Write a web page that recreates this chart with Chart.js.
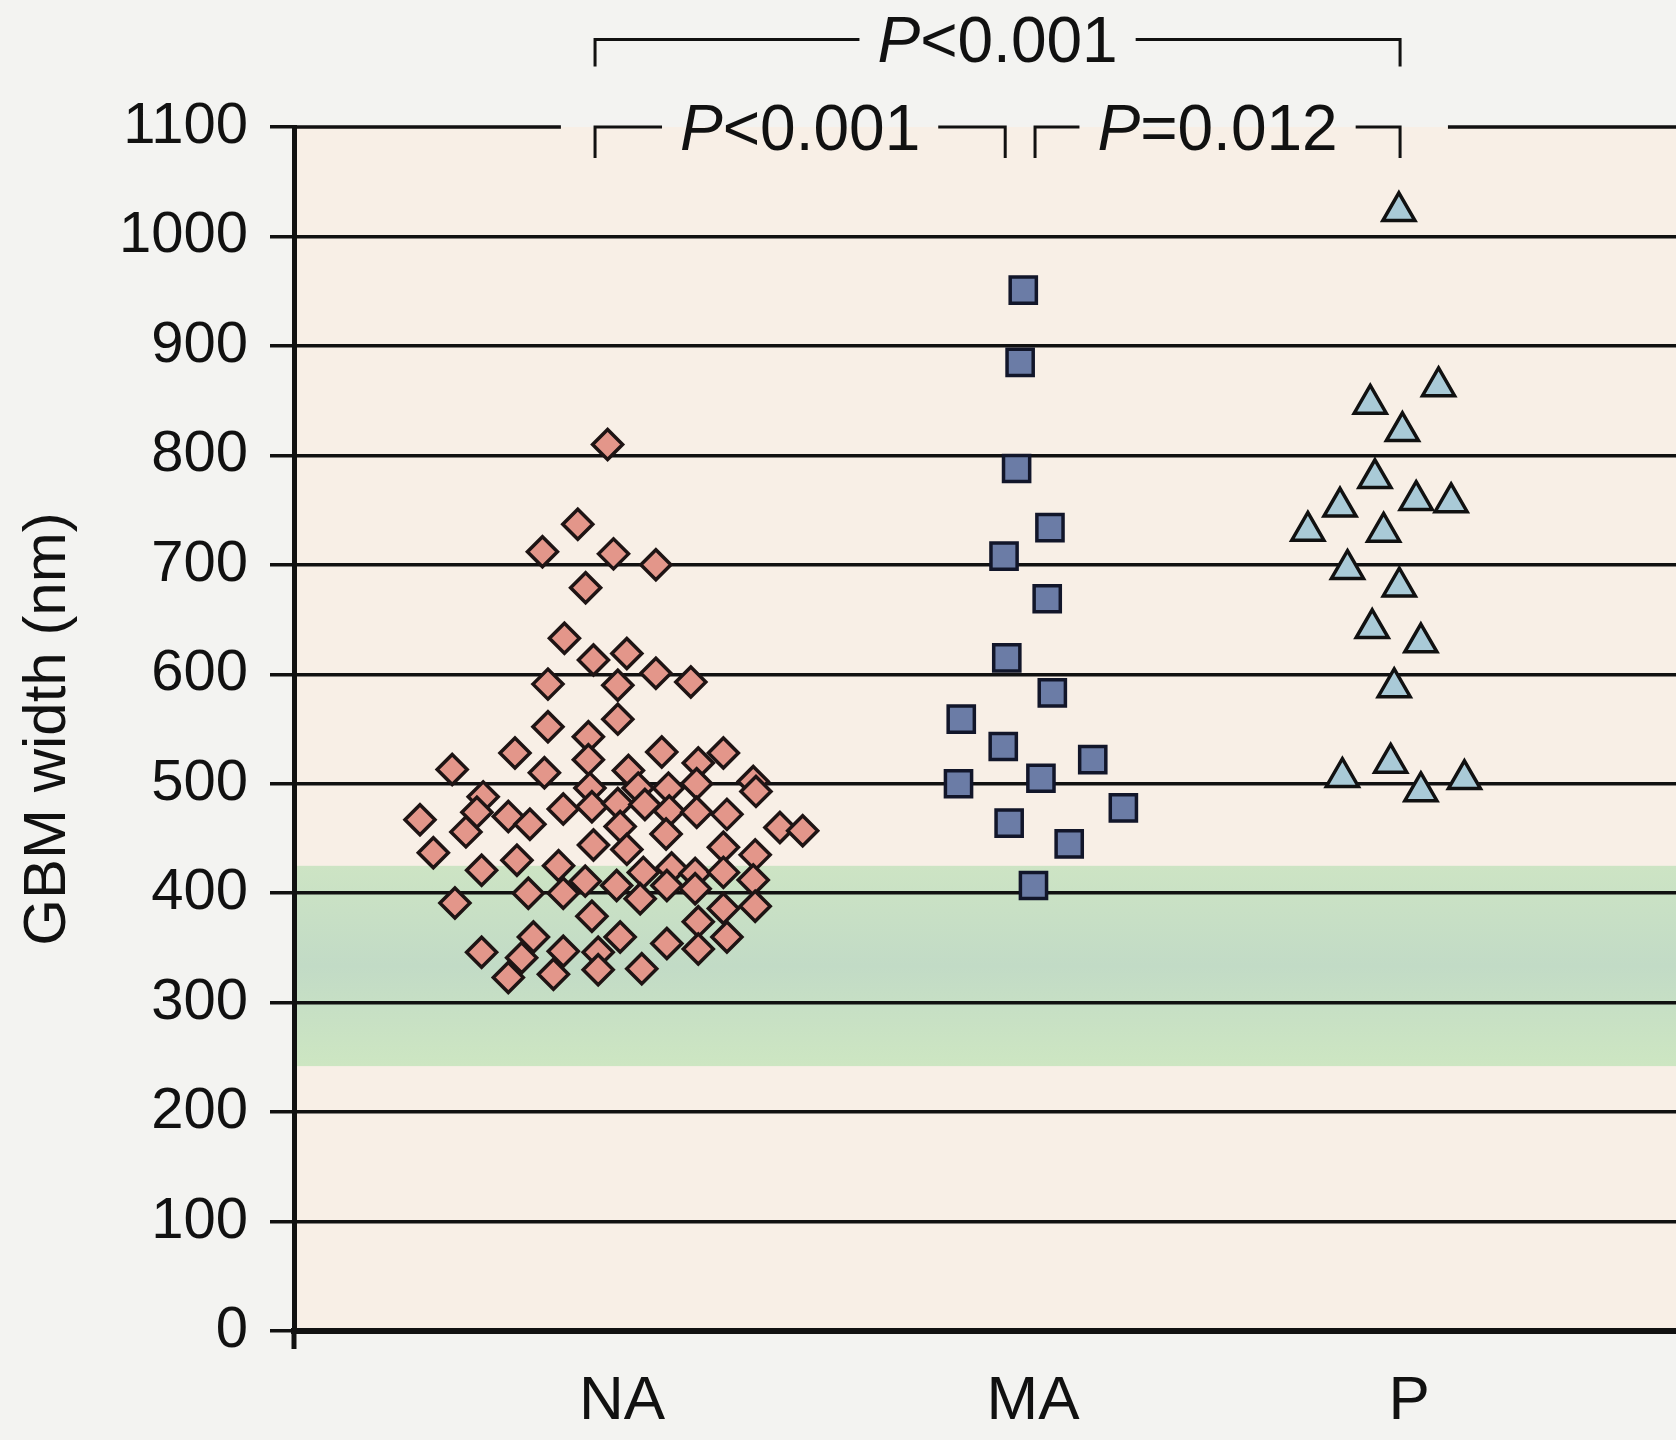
<!DOCTYPE html>
<html>
<head>
<meta charset="utf-8">
<title>GBM width by group</title>
<script src="https://cdn.jsdelivr.net/npm/chart.js@4.4.1/dist/chart.umd.min.js"></script>
<style>
  html, body { margin: 0; padding: 0; background: #f3f3f1; }
  #wrap { width: 1676px; height: 1440px; }
</style>
</head>
<body>
<div id="wrap"><canvas id="gbm" width="1676" height="1440"></canvas></div>
<script>
// groups on the x axis
const groups = ['NA', 'MA', 'P'];

// NA (diamonds): x = jitter position around group 1, y = GBM width (nm)
const naX = [0.981, 0.905, 0.815, 0.996, 1.104, 0.925, 0.871, 0.945, 1.030, 1.104,
  1.193, 0.829, 1.007, 1.007, 0.829, 0.932, 0.745, 1.119, 1.276, 0.585,
  0.932, 1.212, 0.820, 1.034, 1.352, 0.936, 1.136, 1.208, 1.359, 1.059,
  0.664, 0.648, 0.503, 0.620, 0.728, 0.783, 0.868, 0.941, 1.007, 1.076,
  1.138, 1.208, 1.285, 1.013, 1.130, 1.420, 1.478, 0.537, 0.945, 1.030,
  1.276, 1.357, 0.750, 0.660, 0.856, 0.924, 1.004, 1.072, 1.144, 1.204,
  1.276, 1.352, 0.779, 0.868, 1.064, 1.132, 1.204, 0.592, 1.276, 1.357,
  0.941, 1.212, 0.792, 1.013, 0.660, 0.762, 0.868, 0.957, 1.132, 1.212,
  1.285, 0.728, 0.843, 0.957, 1.068];
const naY = [810, 737, 712, 710, 700, 679, 633, 613, 619, 601,
  593, 591, 590, 559, 552, 543, 528, 529, 528, 513,
  522, 519, 510, 512, 502, 496, 496, 500, 493, 496,
  488, 474, 467, 456, 470, 463, 477, 479, 482, 481,
  475, 474, 472, 461, 454, 460, 457, 437, 444, 440,
  442, 435, 430, 421, 425, 411, 407, 419, 423, 418,
  419, 412, 400, 400, 395, 407, 404, 391, 386, 388,
  379, 374, 360, 360, 346, 341, 347, 346, 354, 349,
  360, 323, 326, 330, 331];

// MA (squares)
const maX = [2.040, 2.032, 2.023, 2.108, 1.991, 2.101, 1.998, 2.114, 1.882, 1.989,
  2.217, 1.875, 2.085, 2.295, 2.004, 2.157, 2.066];
const maY = [951, 885, 788, 734, 708, 669, 615, 583, 559, 534,
  522, 500, 505, 478, 464, 445, 407];

// P (triangles)
const pX = [2.997, 3.098, 2.924, 3.006, 2.936, 2.847, 3.041, 3.130, 2.765, 2.958,
  2.866, 2.998, 2.929, 3.053, 2.985, 2.976, 2.853, 3.164, 3.053];
const pY = [1023, 863, 847, 822, 779, 753, 759, 757, 731, 730,
  696, 680, 642, 629, 588, 519, 506, 504, 493];

// y axis ticks and the shaded normal range
const yTicks = [0, 100, 200, 300, 400, 500, 600, 700, 800, 900, 1000, 1100];
const normalBand = [242, 425];

// pairwise comparisons and their P values
const comparisons = [['NA', 'MA'], ['MA', 'P'], ['NA', 'P']];
const pValues = ['P<0.001', 'P=0.012', 'P<0.001'];

// layout for labels and brackets (x in axis units, levels in nm)
const labelPos = [1.018, 2.065, 3.023];
const bracketSpans = [[0.949, 1.994], [2.070, 3.0], [0.949, 3.0]];
const bracketLevels = [1100, 1100, 1180];
const bracketDrop = [31, 31, 27];
const gridGap = [0.862, 3.122];

const FONT = "'Liberation Sans', Arial, Helvetica, sans-serif";
const INK = '#111';

const pts = (xs, ys) => xs.map((x, i) => ({ x, y: ys[i] }));

const paper = {
  id: 'paper',
  beforeDraw(chart) {
    const { ctx, chartArea: a, scales: { y } } = chart;
    ctx.save();
    ctx.fillStyle = '#f3f3f1';
    ctx.fillRect(0, 0, chart.width, chart.height);
    ctx.fillStyle = '#f8efe6';
    ctx.fillRect(a.left, a.top, a.right - a.left, a.bottom - a.top);
    const top = y.getPixelForValue(normalBand[1]);
    const bot = y.getPixelForValue(normalBand[0]);
    const g = ctx.createLinearGradient(0, top, 0, bot);
    g.addColorStop(0, '#cde4c4');
    g.addColorStop(0.5, '#c2dbc6');
    g.addColorStop(1, '#cde6c2');
    ctx.fillStyle = g;
    ctx.fillRect(a.left, top, a.right - a.left, bot - top);
    ctx.restore();
  },
  afterDraw(chart) {
    const { ctx, chartArea: a, scales: { x, y } } = chart;
    ctx.save();
    ctx.strokeStyle = INK;
    ctx.fillStyle = INK;
    ctx.lineCap = 'butt';

    // top gridline, broken where the brackets sit
    const yTop = y.getPixelForValue(1100);
    ctx.lineWidth = 3.5;
    ctx.beginPath();
    ctx.moveTo(a.left, yTop);
    ctx.lineTo(x.getPixelForValue(gridGap[0]), yTop);
    ctx.moveTo(x.getPixelForValue(gridGap[1]), yTop);
    ctx.lineTo(a.right, yTop);
    ctx.stroke();

    // y axis runs a little past zero
    ctx.lineWidth = 5;
    ctx.beginPath();
    ctx.moveTo(a.left, a.bottom);
    ctx.lineTo(a.left, a.bottom + 18);
    ctx.stroke();

    // significance brackets
    comparisons.forEach((pair, i) => {
      const x0 = x.getPixelForValue(bracketSpans[i][0]);
      const x1 = x.getPixelForValue(bracketSpans[i][1]);
      const ly = y.getPixelForValue(bracketLevels[i]);
      const txt = pValues[i];
      const head = txt.charAt(0), rest = txt.slice(1);
      const fs = 64;
      ctx.font = 'italic ' + fs + 'px ' + FONT;
      const wHead = ctx.measureText(head).width;
      ctx.font = fs + 'px ' + FONT;
      const wRest = ctx.measureText(rest).width;
      const w = wHead + wRest;
      const cx = (x0 + x1) / 2;
      const tx = cx - w / 2;
      const gap = 18;

      ctx.lineWidth = 3;
      ctx.beginPath();
      ctx.moveTo(x0, ly + bracketDrop[i]);
      ctx.lineTo(x0, ly);
      ctx.lineTo(tx - gap, ly);
      ctx.moveTo(tx + w + gap, ly);
      ctx.lineTo(x1, ly);
      ctx.lineTo(x1, ly + bracketDrop[i]);
      ctx.stroke();

      ctx.textBaseline = 'alphabetic';
      ctx.textAlign = 'left';
      const base = ly + fs * 0.358;
      ctx.font = 'italic ' + fs + 'px ' + FONT;
      ctx.fillText(head, tx, base);
      ctx.font = fs + 'px ' + FONT;
      ctx.fillText(rest, tx + wHead, base);
    });
    ctx.restore();
  }
};

new Chart(document.getElementById('gbm'), {
  type: 'scatter',
  data: {
    datasets: [
      {
        label: groups[0],
        data: pts(naX, naY),
        pointStyle: 'rectRot',
        pointRadius: 15,
        backgroundColor: '#e3968a',
        borderColor: '#1e1414',
        borderWidth: 3.5
      },
      {
        label: groups[1],
        data: pts(maX, maY),
        pointStyle: 'rect',
        pointRadius: 18.5,
        backgroundColor: '#6b7ca6',
        borderColor: '#12162a',
        borderWidth: 3.5
      },
      {
        label: groups[2],
        data: pts(pX, pY),
        pointStyle: 'triangle',
        pointRadius: 18.5,
        backgroundColor: '#a9cad7',
        borderColor: INK,
        borderWidth: 3.5
      }
    ]
  },
  options: {
    responsive: false,
    animation: false,
    events: [],
    layout: { autoPadding: false, padding: { top: 127, left: 0, right: 0, bottom: 0 } },
    plugins: { legend: { display: false }, tooltip: { enabled: false } },
    scales: {
      x: {
        type: 'linear',
        min: 0.182,
        max: 3.703,
        afterBuildTicks: (scale) => { scale.ticks = labelPos.map(v => ({ value: v })); },
        afterFit: (scale) => {
          scale.height = 109;
          scale.paddingLeft = 0;
          scale.paddingRight = 0;
        },
        grid: { display: false, drawTicks: false },
        border: { display: true, color: INK, width: 6 },
        ticks: {
          autoSkip: false,
          maxRotation: 0,
          padding: 34,
          color: INK,
          font: { family: FONT, size: 62 },
          callback: (v, i) => groups[i]
        }
      },
      y: {
        min: 0,
        max: 1100,
        afterBuildTicks: (scale) => { scale.ticks = yTicks.map(v => ({ value: v })); },
        afterFit: (scale) => { scale.width = 294; },
        grid: {
          color: (c) => (c.tick && c.tick.value === 1100 ? 'rgba(0,0,0,0)' : INK),
          tickColor: INK,
          lineWidth: 3.5,
          tickLength: 24
        },
        border: { display: true, color: INK, width: 5 },
        ticks: {
          padding: 22,
          color: INK,
          font: { family: FONT, size: 58 },
          callback: (v) => String(v)
        },
        title: {
          display: true,
          text: 'GBM width (nm)',
          color: INK,
          padding: { top: 12, bottom: 0 },
          font: { family: FONT, size: 60 }
        }
      }
    }
  },
  plugins: [paper]
});
</script>
</body>
</html>
